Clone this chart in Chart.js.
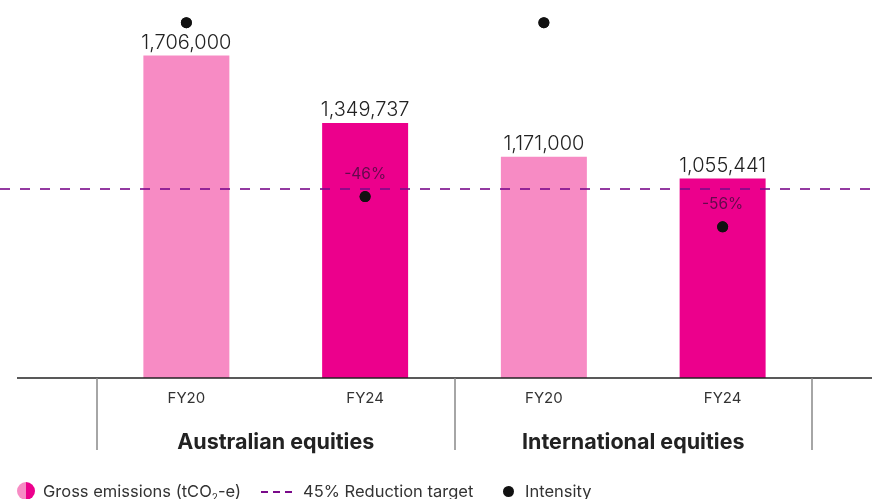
<!DOCTYPE html>
<html>
<head>
<meta charset="utf-8">
<script src="https://cdn.jsdelivr.net/npm/chart.js@4"></script>
<style>
  html, body { margin: 0; padding: 0; background: #fff; }
  #wrap { position: relative; width: 872px; height: 499px; }
  #legend { position: absolute; left: 0; top: 481px; width: 872px; height: 20px;
    font-family: "Inter", "Open Sans", sans-serif; font-size: 16.5px; color: #333; }
  #legend > * { position: absolute; white-space: nowrap; }
  .half { left: 17px; top: 1px; width: 18px; height: 18px; border-radius: 50%;
    background: linear-gradient(90deg, #f78bc4 50%, #ec008c 50%); }
  .dash { left: 261px; top: 10px; width: 31px; height: 2px;
    background: repeating-linear-gradient(90deg, #7a0a8a 0 7px, transparent 7px 12px); }
  .dot { left: 503px; top: 5px; width: 11px; height: 11px; border-radius: 50%; background: #111; }
  sub { font-size: 10px; }
</style>
</head>
<body>
<div id="wrap">
  <canvas id="grafico" width="872" height="499"></canvas>
  <div id="legend">
    <span class="half"></span><span style="left:43px;top:0">Gross emissions (tCO<sub>2</sub>-e)</span>
    <span class="dash"></span><span style="left:303px;top:0">45% Reduction target</span>
    <span class="dot"></span><span style="left:525px;top:0">Intensity</span>
  </div>
</div>
<script>
// Dados do gráfico
const anos = ['FY20', 'FY24', 'FY20', 'FY24'];
const grupos = ['Australian equities', 'International equities'];
const emissoes = [1706000, 1349737, 1171000, 1055441];
const intensidade = [94, 48, 94, 40];          // índice (eixo oculto)
const reducao = ['', '-46%', '', '-56%'];
const meta = 1000000;                          // linha tracejada da meta

const corClara = '#f78bc4';
const corForte = '#ec008c';
const fonte = '"Inter", "Open Sans", sans-serif';

// Plugin para desenhos extras (eixo, divisórias, rótulos)
const extras = {
    id: 'extras',
    afterDatasetsDraw(chart) {
        const ctx = chart.ctx;
        const x = chart.scales.x;
        const y = chart.scales.y;
        const base = chart.chartArea.bottom;

        // linha da meta
        const yMeta = y.getPixelForValue(meta);
        ctx.save();
        ctx.strokeStyle = '#7a0a8a';
        ctx.lineWidth = 1.6;
        ctx.setLineDash([10, 10]);
        ctx.beginPath();
        ctx.moveTo(0, yMeta);
        ctx.lineTo(chart.width, yMeta);
        ctx.stroke();
        ctx.restore();

        const pts = chart.getDatasetMeta(1).data;

        // valores acima das barras
        const barras = chart.getDatasetMeta(0).data;
        ctx.save();
        ctx.font = '300 20px ' + fonte;
        ctx.fillStyle = '#222';
        ctx.textAlign = 'center';
        ctx.textBaseline = 'alphabetic';
        barras.forEach((b, i) => {
            ctx.fillText(emissoes[i].toLocaleString('en-US'), b.x, b.y - 7);
        });

        // percentuais de redução
        ctx.font = '15.5px ' + fonte;
        ctx.fillStyle = 'rgba(85, 10, 70, 0.9)';
        ctx.textBaseline = 'middle';
        pts.forEach((p, i) => {
            if (reducao[i]) ctx.fillText(reducao[i], p.x, p.y - 22);
        });
        ctx.restore();

        // eixo horizontal
        ctx.save();
        ctx.strokeStyle = '#222';
        ctx.lineWidth = 1.5;
        ctx.beginPath();
        ctx.moveTo(17, base);
        ctx.lineTo(chart.width, base);
        ctx.stroke();

        // divisórias verticais
        const passo = x.getPixelForValue(1) - x.getPixelForValue(0);
        const divs = [x.getPixelForValue(0) - passo / 2, x.getPixelForValue(1) + passo / 2, x.getPixelForValue(3) + passo / 2];
        ctx.strokeStyle = '#888';
        ctx.lineWidth = 1.5;
        divs.forEach(d => {
            ctx.beginPath();
            ctx.moveTo(Math.round(d), base);
            ctx.lineTo(Math.round(d), base + 72);
            ctx.stroke();
        });

        // nomes dos grupos
        ctx.font = 'bold 21.5px ' + fonte;
        ctx.fillStyle = '#222';
        ctx.textAlign = 'center';
        ctx.textBaseline = 'middle';
        grupos.forEach((g, i) => {
            const cx = (x.getPixelForValue(i * 2) + x.getPixelForValue(i * 2 + 1)) / 2;
            ctx.fillText(g, cx, base + 65);
        });
        ctx.restore();

        // pontos de intensidade por cima
        pts.forEach(p => p.draw(ctx));
    }
};

const ctx = document.getElementById('grafico').getContext('2d');
new Chart(ctx, {
    data: {
        labels: anos,
        datasets: [{
            type: 'bar',
            label: 'Gross emissions',
            data: emissoes,
            backgroundColor: [corClara, corForte, corClara, corForte],
            categoryPercentage: 1,
            barPercentage: 0.481,
            yAxisID: 'y',
            order: 2
        }, {
            type: 'line',
            label: 'Intensity',
            data: intensidade,
            showLine: false,
            pointRadius: 5.5,
            pointBackgroundColor: '#111',
            pointBorderWidth: 0,
            yAxisID: 'y1',
            order: 1
        }]
    },
    options: {
        responsive: false,
        animation: false,
        layout: { autoPadding: false, padding: { left: 97, right: 60, top: 0, bottom: 0 } },
        plugins: { legend: { display: false }, tooltip: { enabled: false } },
        scales: {
            x: {
                grid: { display: false },
                border: { display: false },
                ticks: { color: '#333', font: { family: fonte, size: 15 }, padding: 3 },
                afterFit(axis) { axis.height = 121; }
            },
            y: { display: false, min: 0, max: 2000000 },
            y1: { display: false, min: 0, max: 100 }
        }
    },
    plugins: [extras]
});
</script>
</body>
</html>
